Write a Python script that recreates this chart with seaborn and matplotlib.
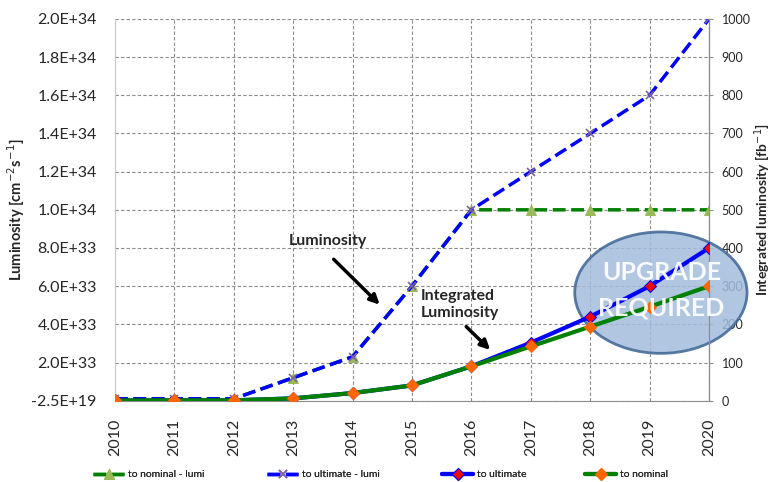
import matplotlib
matplotlib.use("Agg")
import matplotlib.pyplot as plt
from matplotlib.patches import Ellipse
import seaborn as sns

# Data
years = [2010, 2011, 2012, 2013, 2014, 2015, 2016, 2017, 2018, 2019, 2020]
# peak luminosity, cm^-2 s^-1 (left axis)
lumi_nominal = [1e32, 1e32, 1e32, 1.2e33, 2.3e33, 6.0e33, 1.0e34, 1.0e34, 1.0e34, 1.0e34, 1.0e34]
lumi_ultimate = [1e32, 1e32, 1e32, 1.2e33, 2.3e33, 6.0e33, 1.0e34, 1.2e34, 1.4e34, 1.6e34, 2.0e34]
# integrated luminosity, fb^-1 (right axis)
int_ultimate = [0.5, 1, 1, 6, 20, 40, 90, 152, 220, 300, 400]
int_nominal = [0.5, 1, 1, 6, 20, 40, 90, 142, 194, 246, 300]

left_ticks = [-2.5e19, 2e33, 4e33, 6e33, 8e33, 1e34, 1.2e34, 1.4e34, 1.6e34, 1.8e34, 2e34]
right_ticks = [0, 100, 200, 300, 400, 500, 600, 700, 800, 900, 1000]

sns.set_style("white")
plt.rcParams["font.family"] = ["Lato", "DejaVu Sans"]

fig = plt.figure(figsize=(7.71, 4.82), dpi=100)
ax = fig.add_axes([0.149, 0.1687, 0.7706, 0.792])
ax2 = ax.twinx()

# luminosity curves (left axis)
sns.lineplot(x=years, y=lumi_nominal, ax=ax, color="#008000", linestyle="--", linewidth=2.5,
             marker="^", markersize=7, markerfacecolor="#9bbb59", markeredgecolor="#9bbb59",
             label="to nominal - lumi", legend=False)
sns.lineplot(x=years, y=lumi_ultimate, ax=ax, color="#0000ff", linestyle="--", linewidth=2.5,
             marker="x", markersize=6, markeredgecolor="#8064a2", markeredgewidth=1.2,
             label="to ultimate - lumi", legend=False)

# integrated luminosity curves (right axis)
sns.lineplot(x=years, y=int_ultimate, ax=ax2, color="#0000ff", linewidth=3,
             marker="D", markersize=6, markerfacecolor="#ff0000", markeredgecolor="#0000ff",
             label="to ultimate", legend=False)
sns.lineplot(x=years, y=int_nominal, ax=ax2, color="#008000", linewidth=3,
             marker="D", markersize=6, markerfacecolor="#ff6600", markeredgecolor="#ff6600",
             label="to nominal", legend=False)
for i, ln in enumerate(ax2.get_lines()):
    ln.set_zorder(3 + i)

# upgrade ellipse, partly outside the axes, under the curves
ell = Ellipse((2019.19, 283), 2.9, 318, facecolor="#a3bcdc", edgecolor="#3d6594",
              linewidth=2, alpha=0.85, clip_on=False, zorder=1)
ax2.add_patch(ell)
ax2.text(2019.2, 290, "UPGRADE\nREQUIRED", color="white", fontsize=18, fontweight="bold",
         ha="center", va="center", linespacing=1.65, zorder=6, alpha=0.92)

# axes limits and ticks
ax.set_xlim(2010, 2020)
ax.set_ylim(-2.5e19, 2e34)
ax2.set_ylim(0, 1000)
ax.set_xticks(years)
ax.set_xticklabels([str(y) for y in years], rotation=90, fontsize=11.5)
ax.set_yticks(left_ticks)
ax.set_yticklabels([f"{v:.1E}" for v in left_ticks], fontsize=11.5)
ax2.set_yticks(right_ticks)
ax2.set_yticklabels([str(v) for v in right_ticks], fontsize=9)

ax.grid(True, linestyle="--", color="#8c8c8c", linewidth=0.8, dashes=(3, 2))
ax2.grid(False)
ax.tick_params(axis="x", length=3, color="#8c8c8c", pad=10)
ax.tick_params(axis="y", length=0, pad=13)
ax2.tick_params(axis="y", length=3, color="#8c8c8c", pad=6)

for a in (ax, ax2):
    a.spines["top"].set_visible(False)
ax.spines["left"].set_color("#c8c8c8")
ax.spines["bottom"].set_color("#8c8c8c")
ax2.spines["right"].set_color("#8c8c8c")
ax2.spines["left"].set_visible(False)
ax2.spines["bottom"].set_visible(False)

ax.set_ylabel("Luminosity [cm$^{-2}$s$^{-1}$]", fontsize=10.5, fontweight="bold", labelpad=3)
ax2.set_ylabel("Integrated luminosity [fb$^{-1}$]", fontsize=10, fontweight="bold", labelpad=1)

# annotations
ax.text(2012.92, 8.35e33, "Luminosity", fontsize=11.5, fontweight="bold", va="center")
ax.annotate("", xy=(2014.49, 4.93e33), xytext=(2013.65, 7.51e33),
            arrowprops=dict(arrowstyle="-|>", color="black", lw=2.5, mutation_scale=14))
ax.text(2015.15, 5.05e33, "Integrated\nLuminosity", fontsize=11.5, fontweight="bold",
        va="center", linespacing=1.3)
ax.annotate("", xy=(2016.35, 2.56e33), xytext=(2015.88, 3.98e33),
            arrowprops=dict(arrowstyle="-|>", color="black", lw=2.5, mutation_scale=14))

# one legend per entry, so each sits where the reference has it
handles = ax.get_lines()[:2] + ax2.get_lines()[:2]
labels = ["to nominal - lumi", "to ultimate - lumi", "to ultimate", "to nominal"]
legend_x = [93, 267, 442, 585]
for h, lab, lx in zip(handles, labels, legend_x):
    lg = fig.legend([h], [lab], loc="center left", bbox_to_anchor=(lx / 771, 0.015),
                    frameon=False, fontsize=7.5, handlelength=3, handletextpad=0.4,
                    borderpad=0, borderaxespad=0)
    fig.add_artist(lg)

fig.savefig("out.png", dpi=100)
